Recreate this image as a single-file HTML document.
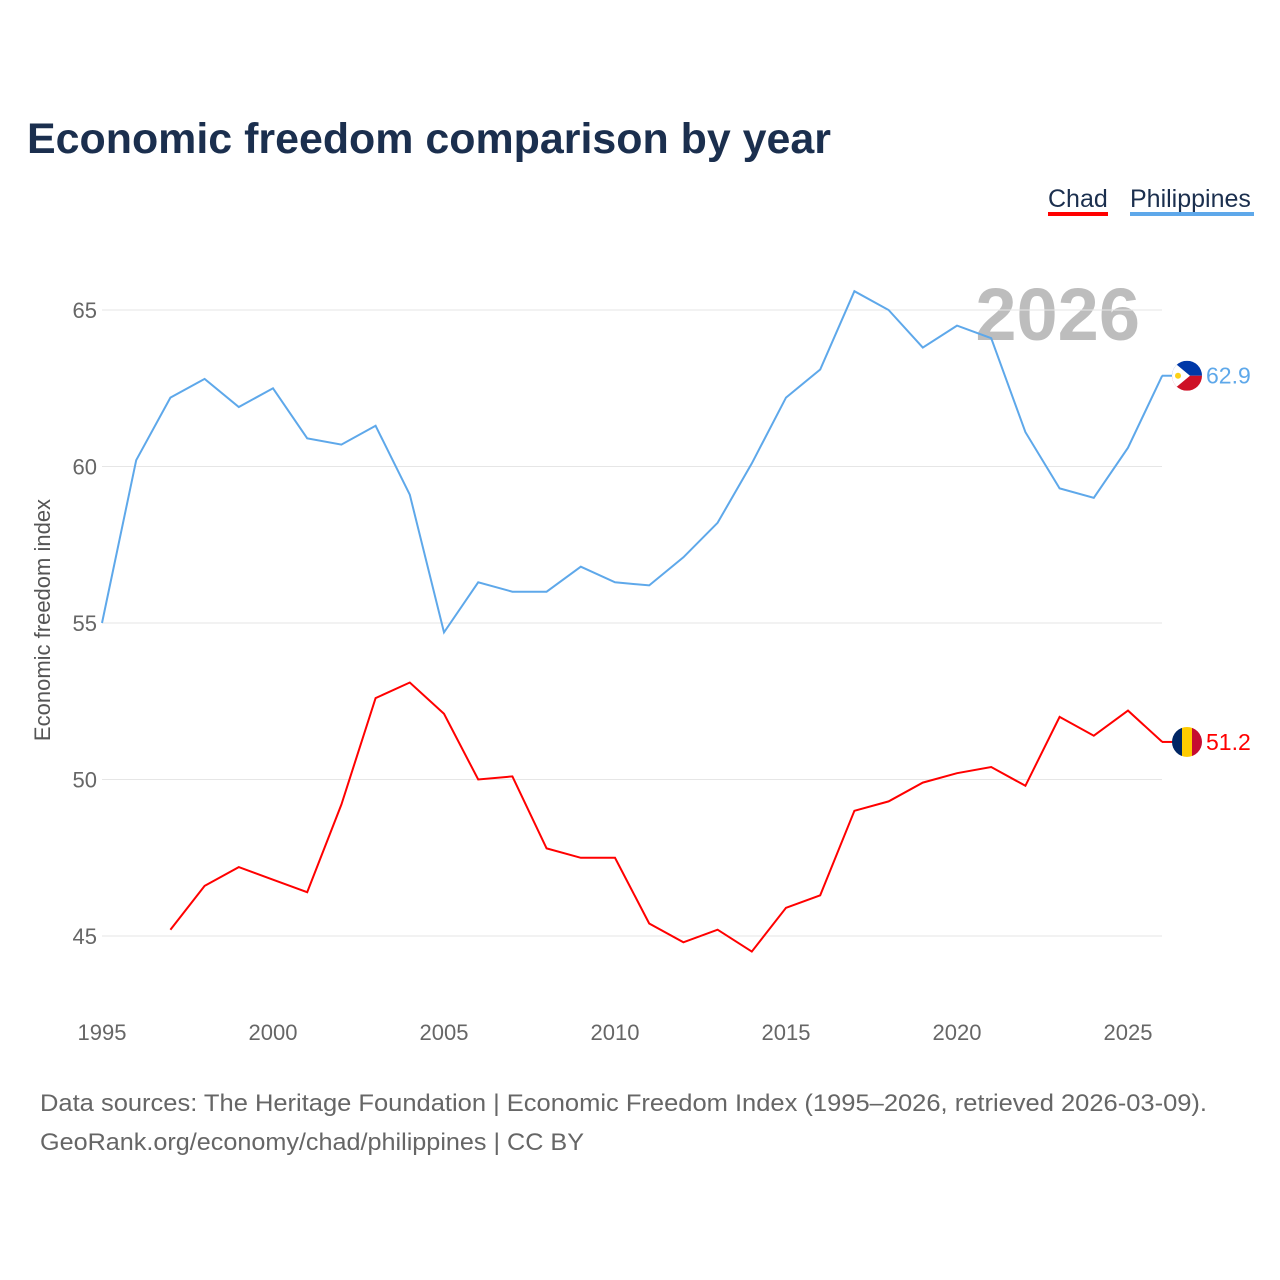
<!DOCTYPE html>
<html><head><meta charset="utf-8"><style>
body{margin:0;width:1280px;height:1280px;background:#fff;font-family:"Liberation Sans",sans-serif;overflow:hidden}
svg{position:absolute;left:0;top:0}
</style></head><body>
<svg width="1280" height="1280">
<text x="27" y="153" font-size="43" font-weight="bold" fill="#1b2f4e" textLength="804" lengthAdjust="spacingAndGlyphs">Economic freedom comparison by year</text>
<g>
<text x="1048" y="207" font-size="25" fill="#1b2f4e">Chad</text>
<rect x="1048" y="212" width="60" height="4" fill="#ff0000"/>
<text x="1130" y="207" font-size="25" fill="#1b2f4e">Philippines</text>
<rect x="1130" y="212" width="124" height="4" fill="#5ea8ea"/>
</g>
<text x="1140" y="340" font-size="74" font-weight="bold" fill="#bdbdbd" text-anchor="end">2026</text>
<g id="grid"></g><g id="axes"></g><g id="lines"></g>
<text transform="translate(50,620) rotate(-90)" font-size="22" fill="#555" text-anchor="middle">Economic freedom index</text>
<text x="40" y="1111" font-size="24" fill="#666" textLength="1167" lengthAdjust="spacingAndGlyphs">Data sources: The Heritage Foundation | Economic Freedom Index (1995–2026, retrieved 2026-03-09).</text>
<text x="40" y="1150" font-size="24" fill="#666" textLength="544" lengthAdjust="spacingAndGlyphs">GeoRank.org/economy/chad/philippines | CC BY</text>
</svg>
<script>
const years=[];for(let y=1995;y<=2026;y++)years.push(y);
const philippines=[55.0,60.2,62.2,62.8,61.9,62.5,60.9,60.7,61.3,59.1,54.7,56.3,56.0,56.0,56.8,56.3,56.2,57.1,58.2,60.1,62.2,63.1,65.6,65.0,63.8,64.5,64.1,61.1,59.3,59.0,60.6,62.9];
const chad=[null,null,45.2,46.6,47.2,46.8,46.4,49.2,52.6,53.1,52.1,50.0,50.1,47.8,47.5,47.5,45.4,44.8,45.2,44.5,45.9,46.3,49.0,49.3,49.9,50.2,50.4,49.8,52.0,51.4,52.2,51.2];
const yTicks=[45,50,55,60,65];
const xTicks=[1995,2000,2005,2010,2015,2020,2025];
const X=y=>102+(y-1995)*34.2;
const Y=v=>310+(65-v)*31.3;
const NS='http://www.w3.org/2000/svg';
function mk(t,a,p){const e=document.createElementNS(NS,t);for(const k in a)e.setAttribute(k,a[k]);document.getElementById(p).appendChild(e);return e;}
yTicks.forEach(v=>{
 const l=mk('line',{x1:102,x2:1162,y1:Y(v),y2:Y(v),stroke:'#e6e6e6','stroke-width':1},'grid');
 
 
 const t=mk('text',{x:97,y:Y(v)+8,'font-size':22,fill:'#666','text-anchor':'end'},'axes');t.textContent=v;
 
 
});
xTicks.forEach(v=>{
 const t=mk('text',{x:X(v),y:1040,'font-size':22,fill:'#666','text-anchor':'middle'},'axes');t.textContent=v;
 
 
});
function line(data,color,name){
 let d='';data.forEach((v,i)=>{if(v==null)return;d+=(d?'L':'M')+X(years[i]).toFixed(1)+','+Y(v).toFixed(1);});
 const p=mk('path',{d:d,fill:'none',stroke:color,'stroke-width':2},'lines');
 
 
 const last=data[data.length-1];
 const cy=Y(last);
 mk('line',{x1:1162,x2:1174,y1:cy,y2:cy,stroke:color,'stroke-width':2},'lines');
 const t=mk('text',{x:1206,y:cy+8,'font-size':23,fill:color},'lines');t.textContent=last.toFixed(1);
 
 
 return cy;
}
const py=line(philippines,'#5ea8ea','philippines');
const cy=line(chad,'#ff0000','chad');
const g=document.getElementById('lines');
g.insertAdjacentHTML('beforeend',
`<g><clipPath id="cp"><circle cx="1187" cy="${py}" r="15"/></clipPath><g clip-path="url(#cp)"><rect x="1172" y="${py-15}" width="30" height="15" fill="#0038a8"/><rect x="1172" y="${py}" width="30" height="15" fill="#ce1126"/><polygon points="1172,${py-15} 1172,${py+15} 1190,${py}" fill="#fff"/><circle cx="1178" cy="${py}" r="3" fill="#fcd116"/></g></g>
<g><clipPath id="cc"><circle cx="1187" cy="${cy}" r="15"/></clipPath><g clip-path="url(#cc)"><rect x="1172" y="${cy-15}" width="10" height="30" fill="#002664"/><rect x="1182" y="${cy-15}" width="10" height="30" fill="#fecb00"/><rect x="1192" y="${cy-15}" width="10" height="30" fill="#c60c30"/></g></g>`);
</script>
</body></html>
